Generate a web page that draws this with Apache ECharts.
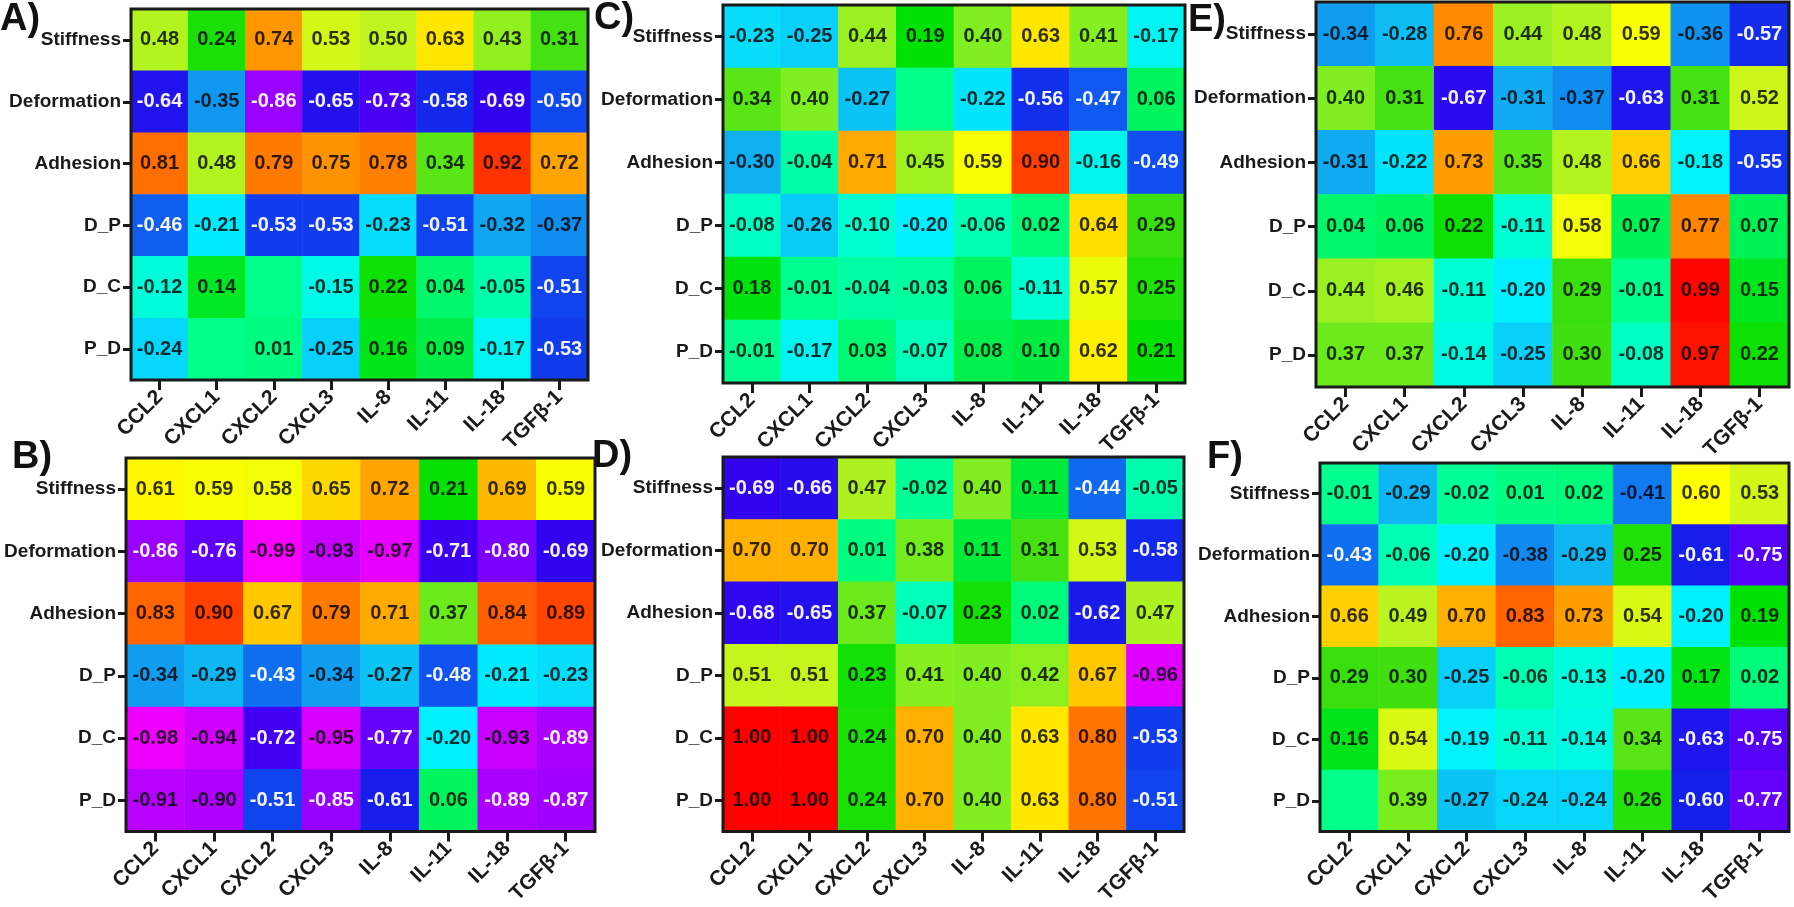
<!DOCTYPE html>
<html>
<head>
<meta charset="utf-8">
<script src="https://cdn.jsdelivr.net/npm/echarts@6/dist/echarts.min.js"></script>
<style>
  html, body { margin: 0; padding: 0; background: #fff; }
  #chart { width: 1794px; height: 907px; }
</style>
</head>
<body>
<div id="chart"></div>
<script>
// categories
const genes = ["CCL2", "CXCL1", "CXCL2", "CXCL3", "IL-8", "IL-11", "IL-18", "TGFβ-1"];
const params = ["Stiffness", "Deformation", "Adhesion", "D_P", "D_C", "P_D"];
const panelNames = ["A)", "B)", "C)", "D)", "E)", "F)"];

// correlation values, one row per parameter (0 = blank cell)
const panelA = [
  [0.48, 0.24, 0.74, 0.53, 0.50, 0.63, 0.43, 0.31],
  [-0.64, -0.35, -0.86, -0.65, -0.73, -0.58, -0.69, -0.50],
  [0.81, 0.48, 0.79, 0.75, 0.78, 0.34, 0.92, 0.72],
  [-0.46, -0.21, -0.53, -0.53, -0.23, -0.51, -0.32, -0.37],
  [-0.12, 0.14, 0, -0.15, 0.22, 0.04, -0.05, -0.51],
  [-0.24, 0, 0.01, -0.25, 0.16, 0.09, -0.17, -0.53]
];
const panelB = [
  [0.61, 0.59, 0.58, 0.65, 0.72, 0.21, 0.69, 0.59],
  [-0.86, -0.76, -0.99, -0.93, -0.97, -0.71, -0.80, -0.69],
  [0.83, 0.90, 0.67, 0.79, 0.71, 0.37, 0.84, 0.89],
  [-0.34, -0.29, -0.43, -0.34, -0.27, -0.48, -0.21, -0.23],
  [-0.98, -0.94, -0.72, -0.95, -0.77, -0.20, -0.93, -0.89],
  [-0.91, -0.90, -0.51, -0.85, -0.61, 0.06, -0.89, -0.87]
];
const panelC = [
  [-0.23, -0.25, 0.44, 0.19, 0.40, 0.63, 0.41, -0.17],
  [0.34, 0.40, -0.27, 0, -0.22, -0.56, -0.47, 0.06],
  [-0.30, -0.04, 0.71, 0.45, 0.59, 0.90, -0.16, -0.49],
  [-0.08, -0.26, -0.10, -0.20, -0.06, 0.02, 0.64, 0.29],
  [0.18, -0.01, -0.04, -0.03, 0.06, -0.11, 0.57, 0.25],
  [-0.01, -0.17, 0.03, -0.07, 0.08, 0.10, 0.62, 0.21]
];
const panelD = [
  [-0.69, -0.66, 0.47, -0.02, 0.40, 0.11, -0.44, -0.05],
  [0.70, 0.70, 0.01, 0.38, 0.11, 0.31, 0.53, -0.58],
  [-0.68, -0.65, 0.37, -0.07, 0.23, 0.02, -0.62, 0.47],
  [0.51, 0.51, 0.23, 0.41, 0.40, 0.42, 0.67, -0.96],
  [1.00, 1.00, 0.24, 0.70, 0.40, 0.63, 0.80, -0.53],
  [1.00, 1.00, 0.24, 0.70, 0.40, 0.63, 0.80, -0.51]
];
const panelE = [
  [-0.34, -0.28, 0.76, 0.44, 0.48, 0.59, -0.36, -0.57],
  [0.40, 0.31, -0.67, -0.31, -0.37, -0.63, 0.31, 0.52],
  [-0.31, -0.22, 0.73, 0.35, 0.48, 0.66, -0.18, -0.55],
  [0.04, 0.06, 0.22, -0.11, 0.58, 0.07, 0.77, 0.07],
  [0.44, 0.46, -0.11, -0.20, 0.29, -0.01, 0.99, 0.15],
  [0.37, 0.37, -0.14, -0.25, 0.30, -0.08, 0.97, 0.22]
];
const panelF = [
  [-0.01, -0.29, -0.02, 0.01, 0.02, -0.41, 0.60, 0.53],
  [-0.43, -0.06, -0.20, -0.38, -0.29, 0.25, -0.61, -0.75],
  [0.66, 0.49, 0.70, 0.83, 0.73, 0.54, -0.20, 0.19],
  [0.29, 0.30, -0.25, -0.06, -0.13, -0.20, 0.17, 0.02],
  [0.16, 0.54, -0.19, -0.11, -0.14, 0.34, -0.63, -0.75],
  [0, 0.39, -0.27, -0.24, -0.24, 0.26, -0.60, -0.77]
];
const panels = [panelA, panelB, panelC, panelD, panelE, panelF];

// layout: plot box [left, top, width, height] and letter position [x, y]
const boxes = [
  [131, 9, 457, 371], [126, 458, 469, 379],
  [723, 5, 462, 378], [723, 457, 461, 384],
  [1316, 2, 473, 385], [1320, 463, 469, 375]
];
const letters = [[0, 1], [12, 439], [594, 0], [592, 438], [1188, 2], [1207, 439]];

// rainbow colour scale from -1 to 1
const rainbow = [
  "#ff00ff", "#b000ff", "#7a00ff", "#3400f0", "#1420ea", "#1048f0", "#1080f0",
  "#10b0f0", "#00f0ff", "#00ffd0", "#00ff88", "#00ec40", "#00e000", "#40e010",
  "#80ee20", "#c0f420", "#ffff00", "#ffb000", "#ff7400", "#ff4000", "#ff0000"
];

const font = "Liberation Sans";
const ink = "#1a1a1a";

function textColor(v) {
  return (v < -0.425 && v > -0.895) ? "rgba(255,255,255,0.95)" : "rgba(0,0,0,0.8)";
}

const chart = echarts.init(document.getElementById("chart"));
const option = {
  animation: false,
  backgroundColor: "#fff",
  textStyle: { fontFamily: font },
  visualMap: {
    show: false, min: -1, max: 1,
    seriesIndex: [0, 1, 2, 3, 4, 5],
    inRange: { color: rainbow }
  },
  grid: [], xAxis: [], yAxis: [], series: [], graphic: []
};

panels.forEach((rows, i) => {
  const b = boxes[i];
  option.grid.push({
    left: b[0], top: b[1], width: b[2], height: b[3],
    show: true, z: 5, backgroundColor: "transparent",
    borderColor: ink, borderWidth: 3
  });
  option.xAxis.push({
    type: "category", gridIndex: i, data: genes,
    axisLine: { show: false },
    axisTick: { show: true, alignWithLabel: true, length: 10, lineStyle: { color: ink, width: 3 } },
    axisLabel: { rotate: 45, margin: 14, color: ink, fontSize: 21, fontWeight: "bold", fontFamily: font },
    splitLine: { show: false }
  });
  option.yAxis.push({
    type: "category", gridIndex: i, data: params, inverse: true,
    axisLine: { show: false },
    axisTick: { show: true, alignWithLabel: true, length: 8, lineStyle: { color: ink, width: 3 } },
    axisLabel: { margin: 10, color: ink, fontSize: 19, fontWeight: "bold", fontFamily: font },
    splitLine: { show: false }
  });
  const data = [];
  rows.forEach((row, r) => {
    row.forEach((v, c) => {
      data.push({ value: [c, r, v], label: { color: textColor(v) } });
    });
  });
  option.series.push({
    type: "heatmap", xAxisIndex: i, yAxisIndex: i, data: data,
    label: {
      show: true, fontSize: 20, fontWeight: "bold", fontFamily: font,
      formatter: p => p.value[2] === 0 ? "" : p.value[2].toFixed(2)
    },
    itemStyle: { borderWidth: 0 },
    emphasis: { disabled: true }
  });
  option.graphic.push({
    type: "text", left: letters[i][0], top: letters[i][1],
    style: { text: panelNames[i], font: "bold 38px " + font, fill: "#111" }
  });
});

chart.setOption(option);
</script>
</body>
</html>
